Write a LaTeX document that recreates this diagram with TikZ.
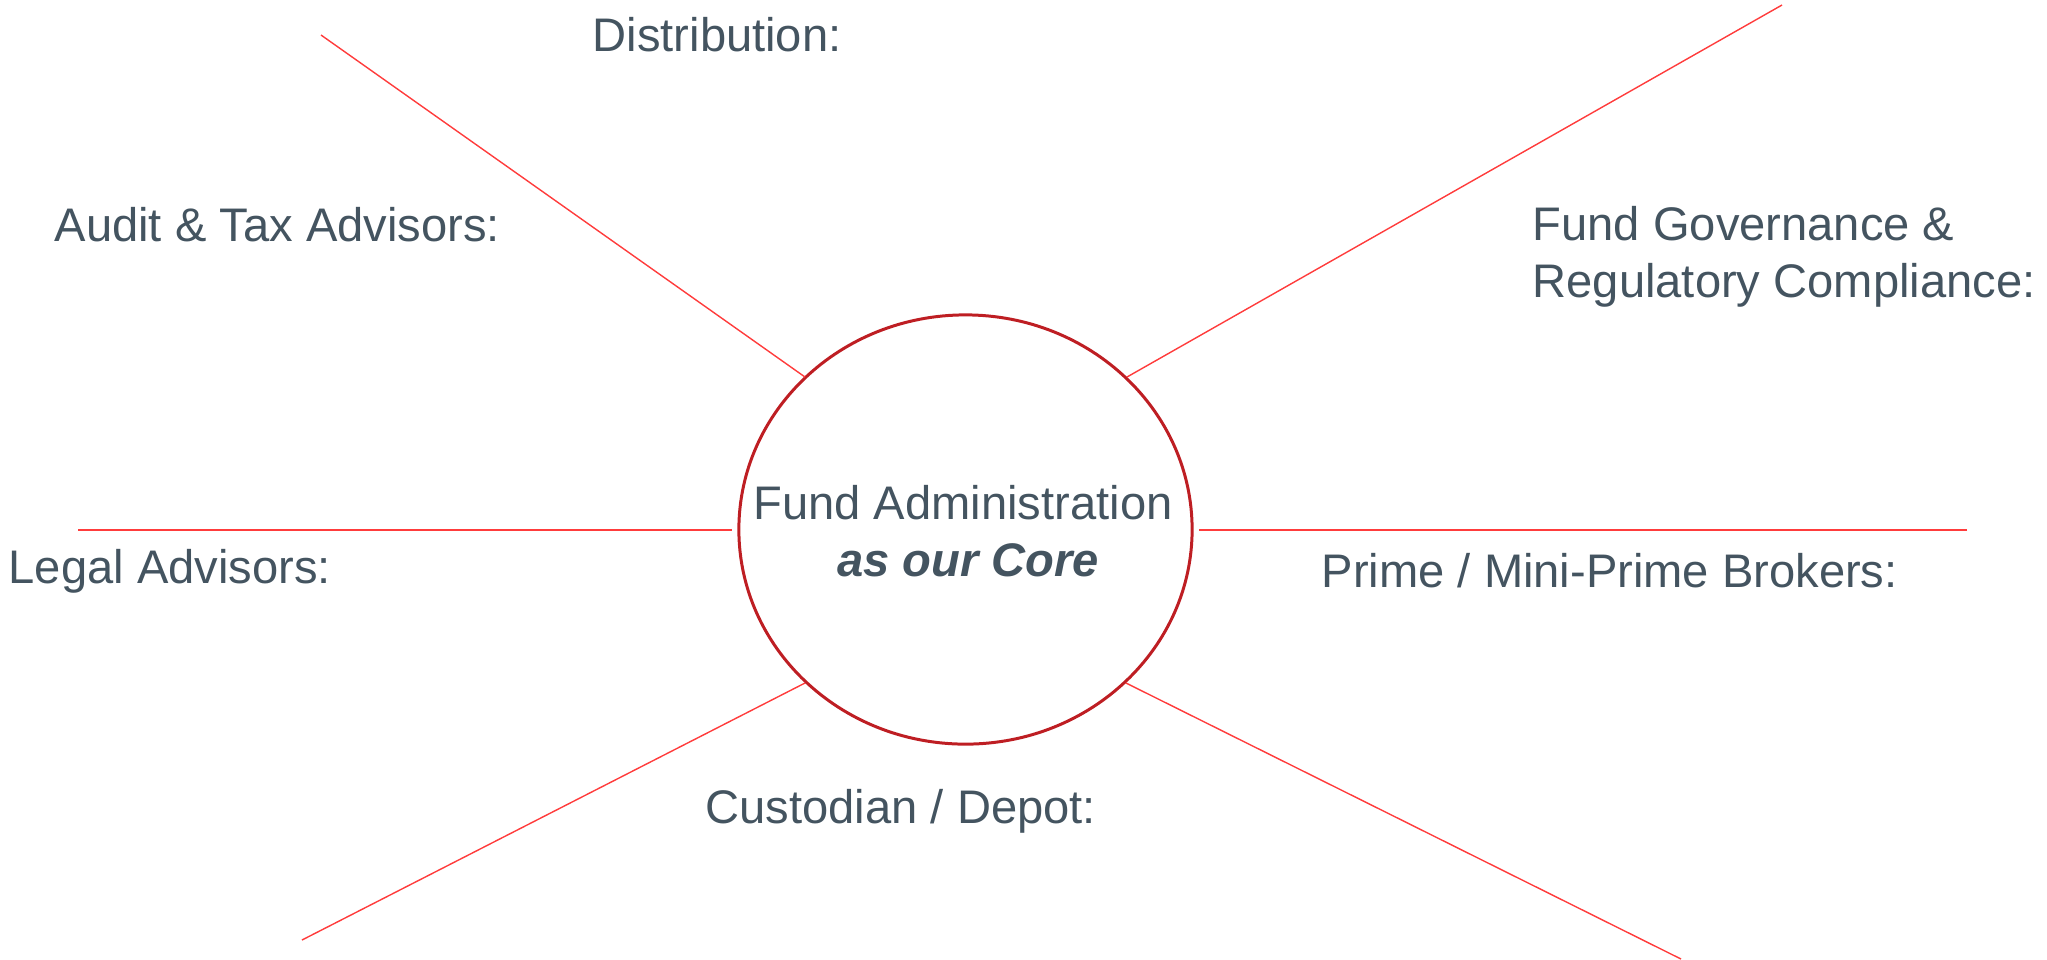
\documentclass[tikz,border=0pt]{standalone}
\usepackage{fontspec}
\setmainfont{Liberation Sans}
\usetikzlibrary{shapes.geometric}
\definecolor{txtcol}{RGB}{68,84,96}
\definecolor{linecol}{RGB}{255,60,60}
\definecolor{circcol}{RGB}{190,30,35}
\begin{document}
\begin{tikzpicture}[x=0.01cm,y=-0.01cm,
  lbl/.style={anchor=base west,inner sep=0pt,text=txtcol,font=\fontsize{13.4}{16}\selectfont},
  ctr/.style={anchor=base,inner sep=0pt,text=txtcol,font=\fontsize{13.4}{16}\selectfont},
  spoke/.style={draw=linecol,line width=0.4pt},
  corebox/.style={ellipse,draw=circcol,line width=0.85pt,minimum width=4.53cm,minimum height=4.29cm,inner sep=0pt}]
\useasboundingbox (0,0) rectangle (2047,959);
\node[corebox] (core) at (965.5,529.5) {};
\node[ctr] (t1) at (963,519) {Fund Administration};
\node[ctr] (t2) at (968,576) {\bfseries\itshape as our Core};
% spoke coordinates
\coordinate (a1) at (321,35);   \coordinate (b1) at (805,377);
\coordinate (a2) at (1782,5);   \coordinate (b2) at (1127,377);
\coordinate (a3) at (78,530);   \coordinate (b3) at (732,530);
\coordinate (a4) at (1967,530); \coordinate (b4) at (1199,530);
\coordinate (a5) at (302,940);  \coordinate (b5) at (805,683);
\coordinate (a6) at (1681,959); \coordinate (b6) at (1126,683);
\draw[spoke] (a1) -- (b1);
\draw[spoke] (a2) -- (b2);
\draw[spoke] (a3) -- (b3);
\draw[spoke] (a4) -- (b4);
\draw[spoke] (a5) -- (b5);
\draw[spoke] (a6) -- (b6);
% labels
\node[lbl] (dist) at (592,51) {Distribution:};
\node[lbl] (audit) at (54,241) {Audit \& Tax Advisors:};
\node[lbl] (gov1) at (1532,240) {Fund Governance \&};
\node[lbl] (gov2) at (1532,297) {Regulatory Compliance:};
\node[lbl] (legal) at (8,583) {Legal Advisors:};
\node[lbl] (prime) at (1321,587) {Prime / Mini-Prime Brokers:};
\node[lbl] (cust) at (705,823) {Custodian / Depot:};
\end{tikzpicture}
\end{document}
